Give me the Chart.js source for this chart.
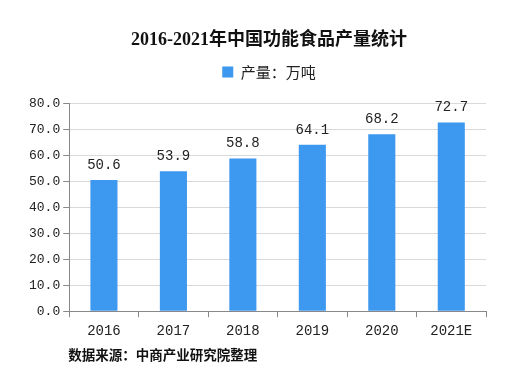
<!DOCTYPE html>
<html>
<head>
<meta charset="utf-8">
<script src="https://cdn.jsdelivr.net/npm/chart.js@4"></script>
<style>
  html, body { margin: 0; padding: 0; background: #fff; }
  #wrap { width: 525px; height: 386px; }
</style>
</head>
<body>
<div id="wrap"><canvas id="chart"></canvas></div>
<script>
const years = ["2016", "2017", "2018", "2019", "2020", "2021E"];
const output = [50.6, 53.9, 58.8, 64.1, 68.2, 72.7];
const yTicks = [0, 10, 20, 30, 40, 50, 60, 70, 80];
const sourceNote = "数据来源：中商产业研究院整理";

const numFont = '"Liberation Mono", "Noto Sans CJK SC", monospace';
const cjkFont = '"Noto Sans CJK SC", sans-serif';

const barLabels = {
  id: "barLabels",
  afterDatasetsDraw(chart) {
    const ctx = chart.ctx;
    ctx.save();
    ctx.font = "14px " + numFont;
    ctx.fillStyle = "#222";
    ctx.textAlign = "center";
    ctx.textBaseline = "bottom";
    chart.getDatasetMeta(0).data.forEach((bar, i) => {
      ctx.fillText(output[i].toFixed(1), bar.x, bar.y - 8);
    });
    ctx.restore();
  }
};

// source line under the chart
const footNote = {
  id: "footNote",
  afterDraw(chart) {
    const ctx = chart.ctx;
    ctx.save();
    ctx.font = "bold 13.5px " + cjkFont;
    ctx.fillStyle = "#111";
    ctx.textAlign = "left";
    ctx.textBaseline = "middle";
    ctx.fillText(sourceNote, chart.chartArea.left - 1, chart.chartArea.bottom + 44);
    ctx.restore();
  }
};

// extra room under the legend, nudge title/legend right
const headerTweak = {
  id: "headerTweak",
  beforeInit(chart) {
    const lg = chart.legend;
    const fit = lg.fit;
    lg.fit = function () {
      fit.bind(lg)();
      this.height += 14;
    };
    [chart.legend, chart.titleBlock].forEach(box => {
      if (!box) return;
      const draw = box.draw;
      box.draw = function () {
        chart.ctx.save();
        chart.ctx.translate(13, 0);
        draw.apply(box, arguments);
        chart.ctx.restore();
      };
    });
  }
};

new Chart(document.getElementById("chart"), {
  type: "bar",
  data: {
    labels: years,
    datasets: [{
      label: "产量：万吨",
      data: output,
      backgroundColor: "#3d98f0",
      categoryPercentage: 0.78,
      barPercentage: 0.5
    }]
  },
  options: {
    responsive: true,
    maintainAspectRatio: false,
    animation: false,
    layout: { padding: { left: 26, right: 39, top: 30, bottom: 40 } },
    scales: {
      x: {
        grid: { drawOnChartArea: false, color: "#888", tickLength: 6, offset: true },
        border: { color: "#888" },
        ticks: { color: "#222", font: { family: numFont, size: 14 }, padding: 6 }
      },
      y: {
        min: 0,
        max: 80,
        afterBuildTicks(axis) { axis.ticks = yTicks.map(v => ({ value: v })); },
        grid: { color: "#d9d9d9", tickLength: 6, tickColor: "#888" },
        border: { color: "#888" },
        ticks: {
          color: "#222",
          font: { family: numFont, size: 13 },
          padding: 3,
          callback: v => v.toFixed(1)
        }
      }
    },
    plugins: {
      legend: {
        display: true,
        labels: {
          color: "#222",
          boxWidth: 11,
          boxHeight: 11,
          padding: 12,
          font: { family: cjkFont, size: 15 }
        }
      },
      title: {
        display: true,
        text: "2016-2021年中国功能食品产量统计",
        color: "#111",
        font: { family: '"Liberation Serif", "Noto Sans CJK SC", serif', size: 18, weight: "bold" },
        padding: { top: 0, bottom: 1 }
      },
      tooltip: { enabled: false }
    }
  },
  plugins: [barLabels, footNote, headerTweak]
});
</script>
</body>
</html>
